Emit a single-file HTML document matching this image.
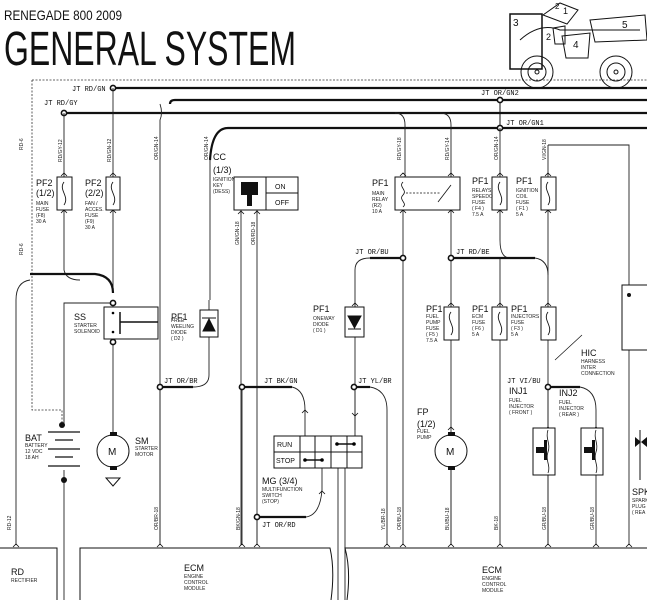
<!DOCTYPE html>
<html><head><meta charset="utf-8"><style>
html,body{margin:0;padding:0;background:#fff;}
svg{display:block;font-family:"Liberation Sans",sans-serif;}
.t{font-size:5px;fill:#222}
.m{font-family:"Liberation Mono",monospace;font-size:7px;fill:#111}
.l{font-size:9px;fill:#111}
</style></head><body>
<svg width="647" height="600" viewBox="0 0 647 600" xmlns="http://www.w3.org/2000/svg">
<rect width="647" height="600" fill="#fff"/>
<text x="4" y="20" font-size="14" textLength="118" lengthAdjust="spacingAndGlyphs" fill="#111">RENEGADE 800 2009</text>
<text x="4" y="65" font-size="48" textLength="292" lengthAdjust="spacingAndGlyphs" fill="#111">GENERAL SYSTEM</text>

<!-- ATV -->
<g fill="none" stroke="#111" stroke-width="1">
<rect x="510" y="14" width="32" height="55" stroke-width="1.5"/>
<text x="513" y="26" font-size="10" fill="#111" stroke="none">3</text>
<path d="M543 15 L560 3 L578 10 L567 24 Z"/>
<text x="563" y="14" font-size="9" fill="#111" stroke="none">1</text>
<text x="555" y="9" font-size="8" fill="#111" stroke="none">2</text>
<path d="M553 28 L565 26 L565 44 L555 44 Z"/>
<text x="546" y="40" font-size="9" fill="#111" stroke="none">2</text>
<path d="M562 36 L590 33 L588 58 L566 58 Z"/>
<text x="573" y="48" font-size="10" fill="#111" stroke="none">4</text>
<path d="M590 20 L645 15 L647 40 L595 42 Z"/>
<text x="622" y="28" font-size="10" fill="#111" stroke="none">5</text>
<path d="M520 40 Q540 22 560 30 L600 30 L640 30"/>
<circle cx="537" cy="72" r="16"/><circle cx="537" cy="72" r="9"/><circle cx="537" cy="72" r="2"/>
<circle cx="616" cy="72" r="16"/><circle cx="616" cy="72" r="9"/><circle cx="616" cy="72" r="2"/>
</g>

<!-- dashed border -->
<path d="M32 80 H647 M32 80 V410 H62 V425" stroke="#333" stroke-width="0.8" stroke-dasharray="2,1.5" fill="none"/>

<!-- buses -->
<g stroke="#111" fill="none">
<line x1="113" y1="88" x2="647" y2="88" stroke-width="2.2"/>
<path d="M170 104 Q170 100 175 100 H647" stroke-width="2.2"/>
<line x1="64" y1="113" x2="647" y2="113" stroke-width="2.2"/>
<path d="M210 160 Q212 128 228 128 H647" stroke-width="2.2"/>
<line x1="500" y1="100" x2="500" y2="128" stroke-width="1"/>
</g>
<g fill="#fff" stroke="#111" stroke-width="1.6">
<circle cx="113" cy="88" r="2.6"/><circle cx="64" cy="113" r="2.6"/>
<circle cx="500" cy="100" r="2.6"/><circle cx="500" cy="128" r="2.6"/>
</g>
<text x="72" y="91" class="m">JT RD/GN</text>
<text x="44" y="105" class="m">JT RD/GY</text>
<text x="481" y="95" class="m">JT OR/GN2</text>
<text x="506" y="125" class="m">JT OR/GN1</text>

<!-- verticals -->
<g stroke="#222" stroke-width="0.9" fill="none">
<path d="M64 113 V270 Q66 280 80 280"/>
<path d="M113 88 V293"/>
<path d="M30 280 Q16 282 16 300 V545"/>
<path d="M160 104 Q163 113 160 120 V545"/>
<path d="M210 160 V300"/>
<path d="M241 210 V545"/><path d="M257 210 V545"/>
<path d="M395 113 Q405 113 405 125 V177"/><path d="M403 210 V258"/>
<path d="M440 113 Q451 113 451 125 V177"/><path d="M451 210 V258"/>
<path d="M500 128 V177"/><path d="M500 210 V240 Q500 258 510 258"/>
<path d="M548 145 V177"/><path d="M548 210 V258"/>
<path d="M548 145 H629 V285"/>
<path d="M355 270 Q355 258 370 258"/><path d="M355 270 V307"/><path d="M355 337 V387 V430"/>
<path d="M403 258 V545"/>
<path d="M451 258 V307"/><path d="M451 340 V545"/>
<path d="M500 258 V545"/>
<path d="M548 258 V307"/><path d="M548 340 V545"/>
<path d="M535 258 Q548 260 548 275"/>
<path d="M113 342 V434"/>
<path d="M113 303 H64 V410 M64 410 V425"/>
<path d="M209 300 V310"/><path d="M209 337 V375 Q209 387 193 387"/>
<path d="M160 387 V545"/>
<path d="M242 387 V545"/>
<path d="M292 387 Q305 390 305 410 V436"/>
<path d="M322 468 V490 Q320 515 306 517"/>
<path d="M257 517 V545"/>
<path d="M338 468 V600"/><path d="M345 468 V600"/>
<path d="M370 387 Q387 390 387 410 V545"/>
<path d="M355 387 V436"/>
<path d="M451 467 V545"/>
<path d="M548 387 V428"/><path d="M548 475 V545"/>
<path d="M580 387 Q596 390 596 410 V428"/><path d="M596 475 V545"/>
<path d="M629 350 V545"/>
<path d="M64 470 V600"/>
</g>
<!-- connector chevrons -->
<g stroke="#111" stroke-width="0.8" fill="none">
<path d="M61 176 L64 173 L67 176 M61 213 L64 210 L67 213"/>
<path d="M110 176 L113 173 L116 176 M110 213 L113 210 L116 213"/>
<path d="M238 214 L241 211 L244 214 M254 214 L257 211 L260 214"/>
<path d="M400 176 L403 173 L406 176 M448 176 L451 173 L454 176 M497 176 L500 173 L503 176 M545 176 L548 173 L551 176"/>
<path d="M400 213 L403 210 L406 213 M448 213 L451 210 L454 213 M497 213 L500 210 L503 213 M545 213 L548 210 L551 213"/>
<path d="M448 306 L451 303 L454 306 M497 306 L500 303 L503 306 M545 306 L548 303 L551 306 M352 306 L355 303 L358 306"/>
<path d="M302 413 L305 410 L308 413 M352 413 L355 416 L358 413 M319 494 L322 491 L325 494"/>
<path d="M448 430 L451 427 L454 430 M545 430 L548 427 L551 430 M593 430 L596 427 L599 430"/>
<path d="M13 547 L16 544 L19 547 M157 547 L160 544 L163 547 M239 547 L242 544 L245 547 M254 547 L257 544 L260 547 M384 547 L387 544 L390 547 M400 547 L403 544 L406 547 M448 547 L451 544 L454 547 M497 547 L500 544 L503 547 M545 547 L548 544 L551 547 M593 547 L596 544 L599 547 M626 547 L629 544 L632 547"/>
</g>
<!-- thick stubs -->
<g stroke="#111" stroke-width="2.2" fill="none">
<path d="M30 274 H95 Q113 276 113 293"/>
<path d="M370 258 H403"/><path d="M451 258 H535"/>
<path d="M160 387 H193"/><path d="M242 387 H292"/><path d="M354 387 H370"/>
<path d="M257 517 H306"/><path d="M548 387 H580"/>
</g>
<g fill="#fff" stroke="#111" stroke-width="1.6">
<circle cx="403" cy="258" r="2.6"/><circle cx="451" cy="258" r="2.6"/>
<circle cx="160" cy="387" r="2.6"/><circle cx="242" cy="387" r="2.6"/>
<circle cx="354" cy="387" r="2.6"/><circle cx="257" cy="517" r="2.6"/>
<circle cx="548" cy="387" r="2.6"/>
<circle cx="113" cy="303" r="2.6"/><circle cx="113" cy="342" r="2.6"/>
</g>
<text x="355" y="254" class="m">JT OR/BU</text>
<text x="456" y="254" class="m">JT RD/BE</text>
<text x="164" y="383" class="m">JT OR/BR</text>
<text x="264" y="383" class="m">JT BK/GN</text>
<text x="358" y="383" class="m">JT YL/BR</text>
<text x="262" y="527" class="m">JT OR/RD</text>
<text x="507" y="383" class="m">JT VI/BU</text>

<!-- fuses -->
<g fill="#fff" stroke="#111" stroke-width="1">
<rect x="57" y="177" width="15" height="33"/><rect x="106" y="177" width="14" height="33"/>
<rect x="492" y="177" width="15" height="33"/><rect x="541" y="177" width="15" height="33"/>
<rect x="444" y="307" width="15" height="33"/><rect x="492" y="307" width="15" height="33"/>
<rect x="541" y="307" width="15" height="33"/>
</g>
<g fill="none" stroke="#111" stroke-width="0.9">
<path d="M64 182 C58 190 70 196 64 205"/><path d="M113 182 C107 190 119 196 113 205"/>
<path d="M500 182 C494 190 506 196 500 205"/><path d="M548 182 C542 190 554 196 548 205"/>
<path d="M451 312 C445 320 457 326 451 335"/><path d="M500 312 C494 320 506 326 500 335"/>
<path d="M548 312 C542 320 554 326 548 335"/>
</g>
<g class="l">
<text x="36" y="186">PF2</text><text x="36" y="196">(1/2)</text>
<text x="85" y="186">PF2</text><text x="85" y="196">(2/2)</text>
<text x="372" y="186">PF1</text><text x="472" y="184">PF1</text><text x="516" y="184">PF1</text>
<text x="426" y="312">PF1</text><text x="472" y="312">PF1</text><text x="511" y="312">PF1</text>
<text x="213" y="160">CC</text><text x="213" y="173">(1/3)</text>
<text x="74" y="320">SS</text><text x="171" y="320">PF1</text><text x="313" y="312">PF1</text>
<text x="25" y="441">BAT</text><text x="135" y="444">SM</text>
<text x="417" y="415">FP</text><text x="417" y="427">(1/2)</text>
<text x="509" y="394">INJ1</text><text x="559" y="396">INJ2</text>
<text x="581" y="356">HIC</text><text x="262" y="484">MG (3/4)</text>
<text x="11" y="575">RD</text><text x="184" y="571">ECM</text><text x="482" y="573">ECM</text>
<text x="632" y="495">SPK</text>
</g>
<g class="t">
<text x="36" y="205">MAIN</text><text x="36" y="211">FUSE</text><text x="36" y="217">(F8)</text><text x="36" y="223">30 A</text>
<text x="85" y="205">FAN /</text><text x="85" y="211">ACCES.</text><text x="85" y="217">FUSE</text><text x="85" y="223">(F9)</text><text x="85" y="229">30 A</text>
<text x="213" y="181">IGNITION</text><text x="213" y="187">KEY</text><text x="213" y="193">(DESS)</text>
<text x="372" y="195">MAIN</text><text x="372" y="201">RELAY</text><text x="372" y="207">(R2)</text><text x="372" y="213">10 A</text>
<text x="472" y="192">RELAYS</text><text x="472" y="198">SPEEDO</text><text x="472" y="204">FUSE</text><text x="472" y="210">( F4 )</text><text x="472" y="216">7.5 A</text>
<text x="516" y="192">IGNITION</text><text x="516" y="198">COIL</text><text x="516" y="204">FUSE</text><text x="516" y="210">( F1 )</text><text x="516" y="216">5 A</text>
<text x="74" y="327">STARTER</text><text x="74" y="333">SOLENOID</text>
<text x="171" y="322">FREE</text><text x="171" y="328">WEELING</text><text x="171" y="334">DIODE</text><text x="171" y="340">( D2 )</text>
<text x="313" y="320">ONEWAY</text><text x="313" y="326">DIODE</text><text x="313" y="332">( D1 )</text>
<text x="426" y="318">FUEL</text><text x="426" y="324">PUMP</text><text x="426" y="330">FUSE</text><text x="426" y="336">( F5 )</text><text x="426" y="342">7.5 A</text>
<text x="472" y="318">ECM</text><text x="472" y="324">FUSE</text><text x="472" y="330">( F6 )</text><text x="472" y="336">5 A</text>
<text x="511" y="318">INJECTORS</text><text x="511" y="324">FUSE</text><text x="511" y="330">( F3 )</text><text x="511" y="336">5 A</text>
<text x="581" y="363">HARNESS</text><text x="581" y="369">INTER</text><text x="581" y="375">CONNECTION</text>
<text x="25" y="447">BATTERY</text><text x="25" y="453">12 VDC</text><text x="25" y="459">18 AH</text>
<text x="135" y="450">STARTER</text><text x="135" y="456">MOTOR</text>
<text x="417" y="433">FUEL</text><text x="417" y="439">PUMP</text>
<text x="509" y="402">FUEL</text><text x="509" y="408">INJECTOR</text><text x="509" y="414">( FRONT )</text>
<text x="559" y="404">FUEL</text><text x="559" y="410">INJECTOR</text><text x="559" y="416">( REAR )</text>
<text x="262" y="491">MULTIFUNCTION</text><text x="262" y="497">SWITCH</text><text x="262" y="503">(STOP)</text>
<text x="11" y="582">RECTIFIER</text>
<text x="184" y="578">ENGINE</text><text x="184" y="584">CONTROL</text><text x="184" y="590">MODULE</text>
<text x="482" y="580">ENGINE</text><text x="482" y="586">CONTROL</text><text x="482" y="592">MODULE</text>
<text x="632" y="502">SPARK</text><text x="632" y="508">PLUG</text><text x="632" y="514">( REA</text>
</g>

<!-- ignition key -->
<rect x="234" y="177" width="64" height="33" fill="#fff" stroke="#111"/>
<line x1="266" y1="177" x2="266" y2="210" stroke="#111"/><line x1="266" y1="193" x2="298" y2="193" stroke="#111"/>
<rect x="241" y="182" width="17" height="13" fill="#111"/><rect x="247" y="194" width="5" height="12" fill="#111"/>
<text x="275" y="189" font-size="7" fill="#111">ON</text><text x="275" y="205" font-size="7" fill="#111">OFF</text>

<!-- main relay -->
<rect x="395" y="177" width="65" height="33" fill="#fff" stroke="#111"/>
<path d="M451 185 L438 202" stroke="#111" stroke-width="0.8" fill="none"/>
<path d="M406 193 H440" stroke="#111" stroke-width="0.8" stroke-dasharray="2,1.5"/>
<path d="M403 182 C398 187 408 190 403 195 C398 200 408 203 403 207" stroke="#111" fill="none" stroke-width="0.8"/>

<!-- SS -->
<rect x="104" y="307" width="54" height="32" fill="#fff" stroke="#111"/>
<path d="M120 312 V334 M120 322 H158" stroke="#111" stroke-width="1.5" fill="none"/>
<circle cx="113" cy="313" r="1.3"/><circle cx="113" cy="332" r="1.3"/>
<!-- diodes -->
<rect x="200" y="310" width="18" height="27" fill="#fff" stroke="#111"/>
<path d="M203 331 L215 331 L209 319 Z M202 318 H216" fill="#111" stroke="#111"/>
<rect x="345" y="307" width="19" height="30" fill="#fff" stroke="#111"/>
<path d="M348 316 L361 316 L354.5 328 Z M348 329 H361" fill="#111" stroke="#111"/>

<!-- motors -->
<circle cx="113" cy="451" r="16" fill="#fff" stroke="#111"/><text x="108" y="455" font-size="10" fill="#111">M</text>
<rect x="110" y="432" width="7" height="4" fill="#111"/><rect x="110" y="466" width="7" height="4" fill="#111"/>
<path d="M106 478 H120 L113 486 Z" fill="none" stroke="#111"/>
<circle cx="451" cy="451" r="16" fill="#fff" stroke="#111"/><text x="446" y="455" font-size="10" fill="#111">M</text>
<rect x="448" y="432" width="7" height="4" fill="#111"/><rect x="448" y="466" width="7" height="4" fill="#111"/>

<!-- battery -->
<g stroke="#111" stroke-width="1.2">
<line x1="48" y1="432" x2="80" y2="432"/><line x1="55" y1="440" x2="73" y2="440"/>
<line x1="48" y1="449" x2="80" y2="449"/><line x1="55" y1="457" x2="73" y2="457"/>
<line x1="48" y1="466" x2="80" y2="466"/>
</g>
<circle cx="62" cy="425" r="3" fill="#111"/><circle cx="64" cy="480" r="3" fill="#111"/>

<!-- MG switch -->
<rect x="274" y="436" width="88" height="32" fill="#fff" stroke="#111"/>
<path d="M274 452 H362 M300 436 V468 M315 436 V468 M331 436 V468 M347 436 V468" stroke="#111" fill="none"/>
<text x="277" y="447" font-size="7" fill="#111">RUN</text><text x="276" y="463" font-size="7" fill="#111">STOP</text>
<path d="M337 444 H354 M305 460 H322" stroke="#111" stroke-width="1.5"/>
<circle cx="337" cy="444" r="1.8"/><circle cx="354" cy="444" r="1.8"/><circle cx="305" cy="460" r="1.8"/><circle cx="322" cy="460" r="1.8"/>

<!-- injectors -->
<rect x="533" y="428" width="22" height="47" fill="#fff" stroke="#111"/>
<rect x="581" y="428" width="22" height="47" fill="#fff" stroke="#111"/>
<path d="M536 447 H544 V440 H547 V460 H544 V453 H536 Z M584 447 H592 V440 H595 V460 H592 V453 H584 Z" fill="#111"/>
<path d="M548 430 C545 438 551 444 548 452 C545 460 551 466 548 473 M596 430 C593 438 599 444 596 452 C593 460 599 466 596 473" stroke="#111" fill="none" stroke-width="0.8"/>

<!-- right component -->
<rect x="622" y="285" width="30" height="65" fill="#fff" stroke="#111"/>
<circle cx="629" cy="295" r="2" fill="#111"/>
<path d="M635 437 L647 447 L647 437 L635 447 Z" fill="#111"/>
<path d="M640 430 V480" stroke="#111"/>
<path d="M582 335 L555 360" stroke="#111" stroke-width="0.7"/>

<!-- ECM / bottom boxes -->
<g stroke="#111" stroke-width="1" fill="none">
<path d="M0 548 H57 V600"/>
<path d="M80 600 V548 H330 Q335 570 331 600"/>
<path d="M347 600 Q351 570 345 548 H647"/>
</g>

<!-- small vertical wire labels -->
<g class="t" font-size="4">
<text transform="translate(23,150) rotate(-90)">RD-6</text>
<text transform="translate(23,255) rotate(-90)">RD-6</text>
<text transform="translate(11,530) rotate(-90)">RD-12</text>
<text transform="translate(62,162) rotate(-90)">RD/GY-12</text>
<text transform="translate(111,162) rotate(-90)">RD/GN-12</text>
<text transform="translate(158,160) rotate(-90)">OR/GN-14</text>
<text transform="translate(208,160) rotate(-90)">OR/GN-14</text>
<text transform="translate(239,245) rotate(-90)">GN/GN-18</text>
<text transform="translate(255,245) rotate(-90)">OR/RD-18</text>
<text transform="translate(401,160) rotate(-90)">RD/GY-18</text>
<text transform="translate(449,160) rotate(-90)">RD/GY-14</text>
<text transform="translate(498,160) rotate(-90)">OR/GN-14</text>
<text transform="translate(546,160) rotate(-90)">VI/GN-18</text>
<text transform="translate(158,530) rotate(-90)">OR/BR-18</text>
<text transform="translate(240,530) rotate(-90)">BK/GN-18</text>
<text transform="translate(385,530) rotate(-90)">YL/BR-18</text>
<text transform="translate(401,530) rotate(-90)">OR/BU-18</text>
<text transform="translate(449,530) rotate(-90)">BU/BU-18</text>
<text transform="translate(498,530) rotate(-90)">BK-18</text>
<text transform="translate(546,530) rotate(-90)">GR/BU-18</text>
<text transform="translate(594,530) rotate(-90)">GR/BU-18</text>
</g>
</svg>
</body></html>
